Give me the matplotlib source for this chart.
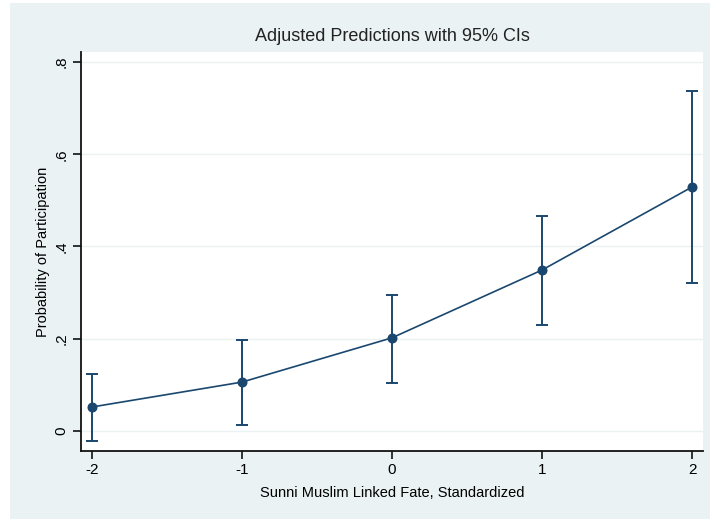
import matplotlib.pyplot as plt
import matplotlib.patches as mpatches

plt.rcParams['font.family'] = ['Liberation Sans', 'DejaVu Sans']

linked_fate = [-2, -1, 0, 1, 2]
prob = [0.052, 0.106, 0.202, 0.349, 0.529]
ci_low = [-0.022, 0.013, 0.104, 0.230, 0.321]
ci_high = [0.124, 0.197, 0.295, 0.466, 0.738]

y_ticks = [0, 0.2, 0.4, 0.6, 0.8]
y_ticklabels = ['0', '.2', '.4', '.6', '.8']

navy = '#1A476F'
bg = '#EAF2F3'

fig = plt.figure(figsize=(7.1, 5.21), dpi=100)
fig.patch.set_facecolor('white')
# Stata-style graph region, kept behind the axes
fig.patches.append(mpatches.Rectangle((10 / 710, 2 / 521), 1 - 10 / 710, 516 / 521,
                                      transform=fig.transFigure, facecolor=bg,
                                      edgecolor='none', zorder=-10))

ax = fig.add_axes([81 / 710, 70 / 521, 622 / 710, 399 / 521])
ax.set_facecolor('white')

yerr = [[p - lo for p, lo in zip(prob, ci_low)],
        [hi - p for p, hi in zip(prob, ci_high)]]
ax.errorbar(linked_fate, prob, yerr=yerr, fmt='none', ecolor=navy,
            elinewidth=1.4, capsize=4, capthick=1.4, zorder=3)
ax.plot(linked_fate, prob, color=navy, lw=1.2, marker='o', ms=6.2,
        markerfacecolor=navy, markeredgecolor=navy, zorder=4)

ax.set_xlim(-2.073, 2.073)
ax.set_ylim(-0.0434, 0.8217)
ax.set_xticks(linked_fate)
ax.set_xticklabels([str(v) for v in linked_fate], fontsize=11)
ax.set_yticks(y_ticks)
ax.set_yticklabels(y_ticklabels, fontsize=11, rotation=90, va='center')
ax.grid(axis='y', color=bg, lw=1.0)
ax.set_axisbelow(True)

for side in ['top', 'right']:
    ax.spines[side].set_visible(False)
for side in ['left', 'bottom']:
    ax.spines[side].set_color('#111111')
    ax.spines[side].set_linewidth(1.3)
ax.tick_params(direction='out', length=6, width=1.2, color='#111111', pad=3)

ax.set_xlabel('Sunni Muslim Linked Fate, Standardized', fontsize=10.5, labelpad=6)
ax.set_ylabel('Probability of Participation', fontsize=10.5, labelpad=3)
ax.set_title('Adjusted Predictions with 95% CIs', fontsize=13, color='#222222', pad=8)

fig.savefig('out.png', dpi=100)
